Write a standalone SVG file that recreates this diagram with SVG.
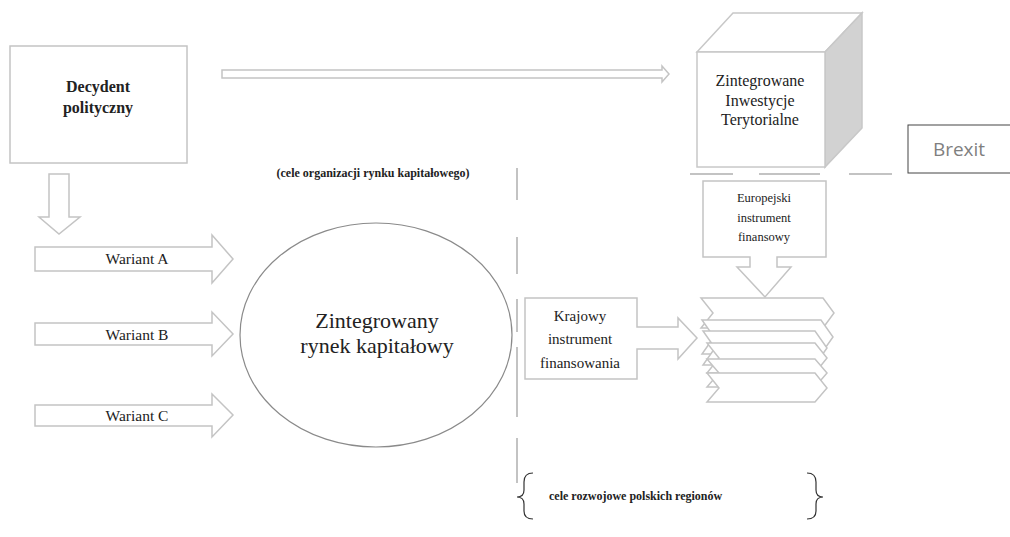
<svg xmlns="http://www.w3.org/2000/svg" width="1010" height="537" viewBox="0 0 1010 537">
<rect width="1010" height="537" fill="#fff"/>
<g id="decydent">
<rect x="10" y="46" width="177" height="117" fill="#fff" stroke="#c4c4c4" stroke-width="1.5"/>
<text x="98" y="92" style="font-family:'Liberation Serif',serif;font-size:16px;font-weight:bold;fill:#222;text-anchor:middle">Decydent</text>
<text x="98" y="113" style="font-family:'Liberation Serif',serif;font-size:16px;font-weight:bold;fill:#222;text-anchor:middle">polityczny</text>
</g>
<g id="zit">
<polygon points="697,52 733,13 862,13 825,52" fill="#fff" stroke="#c8c8c8" stroke-width="1.5"/>
<polygon points="825,52 862,13 862,128 825,167" fill="#d2d2d2" stroke="#c8c8c8" stroke-width="1.5"/>
<rect x="697" y="52" width="128" height="115" fill="#fff" stroke="#c8c8c8" stroke-width="1.5"/>
<text x="760" y="86" style="font-family:'Liberation Serif',serif;font-size:16px;fill:#222;text-anchor:middle">Zintegrowane</text>
<text x="760" y="106" style="font-family:'Liberation Serif',serif;font-size:16px;fill:#222;text-anchor:middle">Inwestycje</text>
<text x="760" y="125" style="font-family:'Liberation Serif',serif;font-size:16px;fill:#222;text-anchor:middle">Terytorialne</text>
</g>
<g id="brexit">
<rect x="908" y="125" width="110" height="48" fill="#fff" stroke="#444" stroke-width="1"/>
<text x="959" y="156" style="font-family:'Open Sans',sans-serif;font-size:19px;fill:#7f7f7f;text-anchor:middle">Brexit</text>
</g>
<g id="europejski">
<path d="M703,181 H826 V257 H777 V267 H791 L765,297 L737,267 H750 V257 H703 Z" fill="#fff" stroke="#c4c4c4" stroke-width="1.5"/>
<text x="764" y="202" style="font-family:'Liberation Serif',serif;font-size:12.5px;fill:#222;text-anchor:middle">Europejski</text>
<text x="764" y="222" style="font-family:'Liberation Serif',serif;font-size:12.5px;fill:#222;text-anchor:middle">instrument</text>
<text x="764" y="241" style="font-family:'Liberation Serif',serif;font-size:12.5px;fill:#222;text-anchor:middle">finansowy</text>
</g>
<g id="krajowy">
<path d="M525,298 H637 V327 H678 V318 L697,338 L678,359 V349 H637 V379 H525 Z" fill="#fff" stroke="#c4c4c4" stroke-width="1.5"/>
<text x="580" y="321" style="font-family:'Liberation Serif',serif;font-size:15px;fill:#222;text-anchor:middle">Krajowy</text>
<text x="580" y="344" style="font-family:'Liberation Serif',serif;font-size:15px;fill:#222;text-anchor:middle">instrument</text>
<text x="580" y="368" style="font-family:'Liberation Serif',serif;font-size:15px;fill:#222;text-anchor:middle">finansowania</text>
</g>
<g id="stack" fill="#fff" stroke="#c4c4c4" stroke-width="1.5">
<path d="M701,298 H823 L834,313 L823,328 H701 L713,313 Z"/>
<path d="M702,320 H821 L833,337 L821,354 H702 L714,337 Z"/>
<path d="M703,331 H815 L827,348 L815,365 H703 L715,348 Z"/>
<path d="M707,343 H815 L827,358 L815,373 H707 L719,358 Z"/>
<path d="M707,359 H815 L827,373 L815,387 H707 L719,373 Z"/>
<path d="M707,373 H815 L827,388 L815,402 H707 L719,388 Z"/>
</g>
<g id="rynek">
<ellipse cx="376" cy="335" rx="136" ry="112" fill="#fff" stroke="#8a8a8a" stroke-width="1.2"/>
<text x="377" y="328" style="font-family:'Liberation Serif',serif;font-size:22px;fill:#222;text-anchor:middle">Zintegrowany</text>
<text x="377" y="353" style="font-family:'Liberation Serif',serif;font-size:22px;fill:#222;text-anchor:middle">rynek kapitałowy</text>
</g>
<g id="label-cele-org">
<text x="373" y="177" style="font-family:'Liberation Serif',serif;font-size:12px;font-weight:bold;fill:#222;text-anchor:middle">(cele organizacji rynku kapitałowego)</text>
</g>
<g id="wariantA">
<path d="M35,247 H212 V235 L233,259 L212,283 V271 H35 Z" fill="#fff" stroke="#c4c4c4" stroke-width="1.5"/>
<text x="137" y="264" style="font-family:'Liberation Serif',serif;font-size:15.5px;fill:#222;text-anchor:middle">Wariant A</text>
</g>
<g id="wariantB">
<path d="M35,323 H212 V312 L233,334 L212,356 V345 H35 Z" fill="#fff" stroke="#c4c4c4" stroke-width="1.5"/>
<text x="137" y="340" style="font-family:'Liberation Serif',serif;font-size:15.5px;fill:#222;text-anchor:middle">Wariant B</text>
</g>
<g id="wariantC">
<path d="M35,405 H212 V394 L233,415 L212,437 V426 H35 Z" fill="#fff" stroke="#c4c4c4" stroke-width="1.5"/>
<text x="137" y="421" style="font-family:'Liberation Serif',serif;font-size:15.5px;fill:#222;text-anchor:middle">Wariant C</text>
</g>
<g id="regiony">
<path d="M533,473 Q524,473 524,482 V490 Q524,497 517,497 Q524,497 524,504 V511 Q524,519 533,519" fill="none" stroke="#333" stroke-width="1.2"/>
<path d="M807,473 Q816,473 816,482 V490 Q816,497 823,497 Q816,497 816,504 V511 Q816,519 807,519" fill="none" stroke="#333" stroke-width="1.2"/>
<text x="549" y="500" style="font-family:'Liberation Serif',serif;font-size:12px;font-weight:bold;fill:#222">cele rozwojowe polskich regionów</text>
</g>
<g id="connectors">
<path d="M222,70 H662 V66 L669,74 L662,82 V78 H222 Z" fill="#fff" stroke="#c4c4c4" stroke-width="1.5"/>
<path d="M49,174 H69 V217 H80 L59,234 L39,217 H49 Z" fill="#fff" stroke="#c4c4c4" stroke-width="1.5"/>
<path d="M690,174 H733 M759,174 H820 M849,174 H892" fill="none" stroke="#b0b0b0" stroke-width="1.5"/>
<path d="M517,168 V200 M517,237 V274 M517,299 V332 M517,347 V417 M517,438 V483" fill="none" stroke="#b0b0b0" stroke-width="1.5"/>
</g>
</svg>
